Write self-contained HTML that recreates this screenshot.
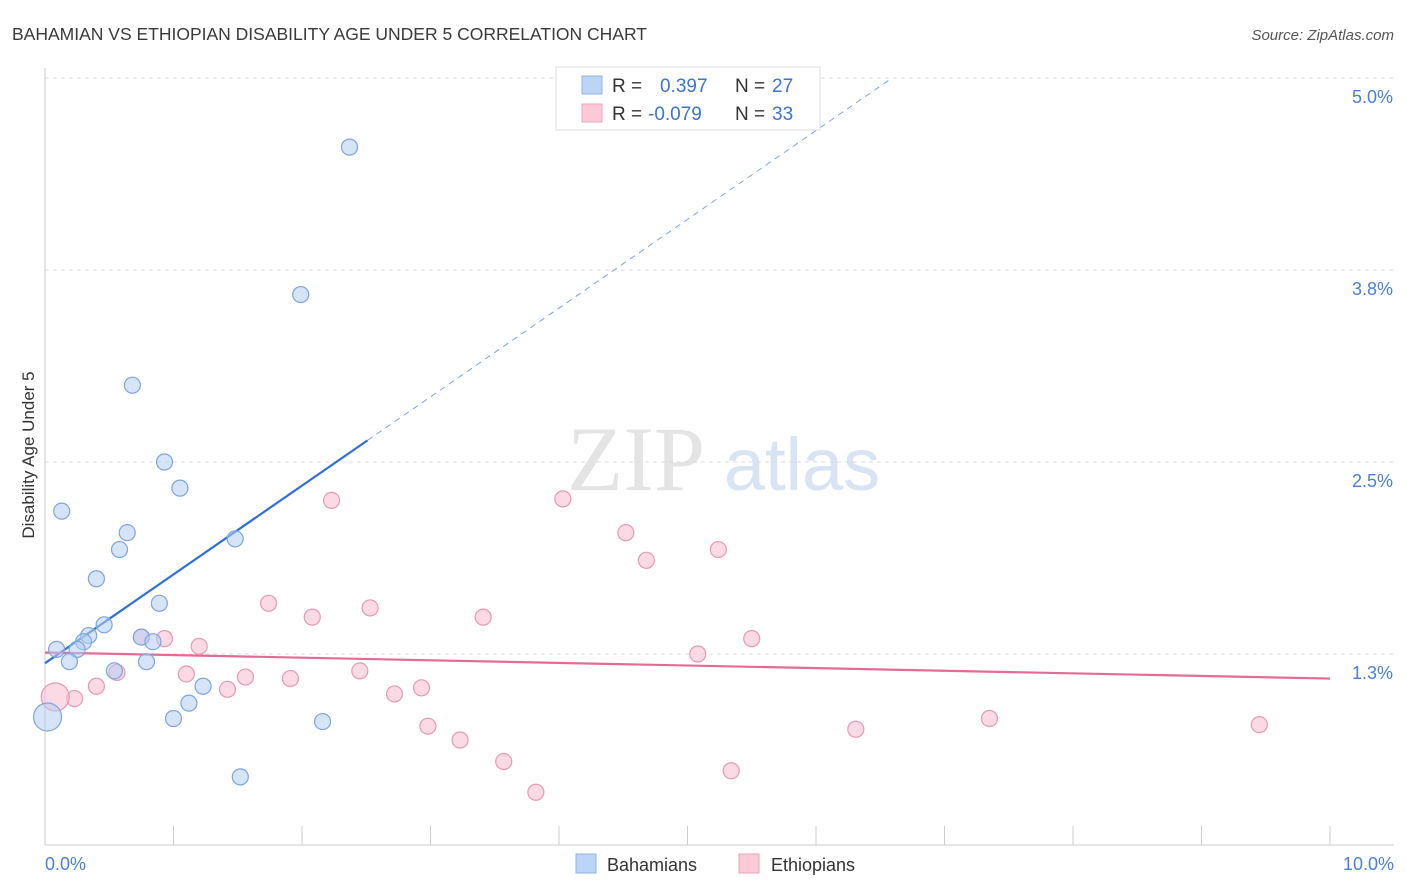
<!DOCTYPE html>
<html><head><meta charset="utf-8">
<style>
body{margin:0;background:#fff;font-family:"Liberation Sans",sans-serif;}
svg{display:block}
</style></head>
<body>
<svg id="chart" width="1406" height="892" viewBox="0 0 1406 892">
<text x="12" y="40" font-size="17.5" fill="#3a3a3a">BAHAMIAN VS ETHIOPIAN DISABILITY AGE UNDER 5 CORRELATION CHART</text>
<text x="1394" y="40" font-size="15" fill="#555" text-anchor="end" font-style="italic">Source: ZipAtlas.com</text>
<g>
<text x="636" y="490" font-size="92" fill="#e4e4e4" font-family="Liberation Serif,serif" text-anchor="middle">ZIP</text>
<text x="802" y="490" font-size="74" fill="#d8e4f4" text-anchor="middle">atlas</text>
</g>
<g id="grid"></g>
<g id="axes"></g>
<g id="lines"></g>
<g id="points"></g>
<text transform="translate(34,455) rotate(-90)" font-size="17" fill="#333" text-anchor="middle">Disability Age Under 5</text>
<g>
<rect x="556" y="67" width="264" height="63" fill="#fff" stroke="#ddd"/>
<rect x="582" y="76" width="20" height="18" fill="#bcd4f6" stroke="#8fb2e6"/>
<rect x="582" y="104" width="20" height="18" fill="#fbc9d8" stroke="#eca3bb"/>
<text x="612" y="92" font-size="19" fill="#333">R = </text>
<text x="660" y="92" font-size="19" fill="#3b73d1">0.397</text>
<text x="735" y="92" font-size="19" fill="#333">N = </text>
<text x="772" y="92" font-size="19" fill="#3b73d1">27</text>
<text x="612" y="120" font-size="19" fill="#333">R = </text>
<text x="648" y="120" font-size="19" fill="#3b73d1">-0.079</text>
<text x="735" y="120" font-size="19" fill="#333">N = </text>
<text x="772" y="120" font-size="19" fill="#3b73d1">33</text>
</g>
<g>
<rect x="576" y="854" width="20" height="19" fill="#bcd4f6" stroke="#8fb2e6"/>
<text x="607" y="871" font-size="18" fill="#333">Bahamians</text>
<rect x="739" y="854" width="20" height="19" fill="#fbc9d8" stroke="#eca3bb"/>
<text x="771" y="871" font-size="18" fill="#333">Ethiopians</text>
</g>
</svg>
<script>
const yTicks=[1.25,2.5,3.75,5.0];
const yTickLabels=["1.3%","2.5%","3.8%","5.0%"];
const xTickLabels=["0.0%","10.0%"];
const blueX=[2.37,1.99,0.68,0.93,1.05,0.13,0.64,1.48,0.58,0.40,0.89,0.46,0.34,0.75,0.30,0.84,0.09,0.25,0.19,0.79,0.54,1.23,1.12,1.00,2.16,0.02,1.52];
const blueY=[4.55,3.59,3.00,2.50,2.33,2.18,2.04,2.00,1.93,1.74,1.58,1.44,1.37,1.36,1.33,1.33,1.28,1.28,1.20,1.20,1.14,1.04,0.93,0.83,0.81,0.84,0.45];
const pinkX=[2.23,4.03,4.52,5.24,4.68,1.74,2.53,2.08,3.41,0.75,0.93,5.50,1.20,5.08,2.45,1.10,0.56,1.56,1.91,0.40,2.93,2.72,1.42,0.23,0.08,7.35,2.98,6.31,9.45,3.23,3.57,5.34,3.82];
const pinkY=[2.25,2.26,2.04,1.93,1.86,1.58,1.55,1.49,1.49,1.36,1.35,1.35,1.30,1.25,1.14,1.12,1.13,1.10,1.09,1.04,1.03,0.99,1.02,0.96,0.97,0.83,0.78,0.76,0.79,0.69,0.55,0.49,0.35];
const blueTrend=[1.19,0.578];
const pinkTrend=[1.26,1.09];
const NS="http://www.w3.org/2000/svg";
const X=v=>45+v*128.5, Y=v=>654-(v-1.25)*153.6;
function mk(p,t,a){const e=document.createElementNS(NS,t);for(const k in a)e.setAttribute(k,a[k]);document.getElementById(p).appendChild(e);return e;}
yTicks.forEach((t,i)=>{
 const g=mk('grid','line',{x1:45,x2:1394,y1:Y(t),y2:Y(t),stroke:'#ddd','stroke-dasharray':'4,4'});
 
 
 const l=mk('grid','text',{x:1393,y:Y(t)+25,'font-size':18,fill:'#4a7fd4','text-anchor':'end'});
 l.textContent=yTickLabels[i];
 
 
});
const ax=mk('axes','line',{x1:45,x2:1394,y1:845,y2:845,stroke:'#ccc'});


const ay=mk('axes','line',{x1:45,x2:45,y1:68,y2:845,stroke:'#ccc'});


for(let i=0;i<=10;i++){
 const t=mk('axes','line',{x1:X(i),x2:X(i),y1:826,y2:845,stroke:'#ccc'});
 
 
}
[[0,'start',45],[10,'end',1394]].forEach((d,i)=>{
 const l=mk('axes','text',{x:d[2],y:870,'font-size':18,fill:'#4a7fd4','text-anchor':d[1]});
 l.textContent=xTickLabels[i];
 
 
});
const xs=2.51, xe=6.58;
const b1=mk('lines','line',{x1:X(0),y1:Y(blueTrend[0]),x2:X(xs),y2:Y(blueTrend[0]+blueTrend[1]*xs),stroke:'#2f6fd6','stroke-width':2.2});


const b2=mk('lines','line',{x1:X(xs),y1:Y(blueTrend[0]+blueTrend[1]*xs),x2:X(xe),y2:Y(blueTrend[0]+blueTrend[1]*xe),stroke:'#7ea4e0','stroke-width':1,'stroke-dasharray':'6,5'});


const p1=mk('lines','line',{x1:X(0),y1:Y(pinkTrend[0]),x2:X(10),y2:Y(pinkTrend[1]),stroke:'#e46b95','stroke-width':2.2});


function pts(xa,ya,fill,stroke,name,bigIdx){
 xa.forEach((x,i)=>{
  const c=mk('points','circle',{cx:X(x),cy:Y(ya[i]),r:i===bigIdx?14:8,fill:fill,'fill-opacity':0.55,stroke:stroke,'stroke-width':1.2});
  
  
 });
}
pts(pinkX,pinkY,'#f8bccf','#e899b3','ethiopians-point',24);
pts(blueX,blueY,'#b4cdf2','#7da5e0','bahamians-point',25);
</script>
</body></html>
